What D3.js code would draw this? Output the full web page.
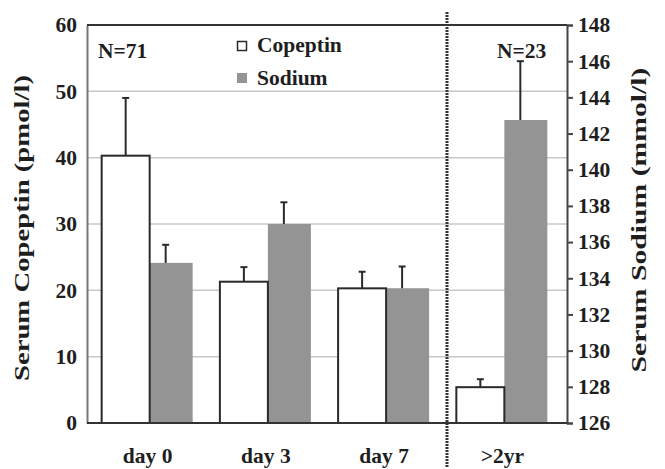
<!DOCTYPE html>
<html>
<head>
<meta charset="utf-8">
<script src="https://cdn.jsdelivr.net/npm/d3@7"></script>
<style>
  body { margin: 0; background: #fff; }
</style>
</head>
<body>
<div id="chart"></div>
<script>
// values
let categories = ["day 0", "day 3", "day 7", ">2yr"];
let copeptin = [40.3, 21.3, 20.3, 5.4];
let copeptinErr = [8.7, 2.2, 2.5, 1.2];
let sodium = [134.85, 137.0, 133.45, 142.75];
let sodiumErr = [1.0, 1.2, 1.2, 3.25];
let leftTicks = [0, 10, 20, 30, 40, 50, 60];
let rightTicks = [126, 128, 130, 132, 134, 136, 138, 140, 142, 144, 146, 148];

let width = 665, height = 469;
let plot = {left: 87, right: 567, top: 25, bottom: 423};
let serif = "'Liberation Serif', 'DejaVu Serif', serif";

let svg = d3.select("#chart")
    .append("svg")
    .attr("width", width)
    .attr("height", height);

let x = d3.scalePoint()
    .domain(categories)
    .range([plot.left, plot.right])
    .padding(0.53);

let yL = d3.scaleLinear().domain([0, 60]).range([plot.bottom, plot.top]);
let yR = d3.scaleLinear().domain([126, 148]).range([plot.bottom, plot.top]);

let copW = 48, sodW = 43;

let data = categories.map((c, i) => ({
    cat: c, cop: copeptin[i], copE: copeptinErr[i], sod: sodium[i], sodE: sodiumErr[i]
}));

function label(sel, size) {
    return sel.style("font-family", serif)
        .style("font-weight", "bold")
        .style("font-size", size)
        .style("fill", "#1e1e1e");
}

// gridlines
svg.append("g")
    .selectAll("line")
    .data(leftTicks.filter(d => d > 0 && d < 60))
    .enter()
    .append("line")
    .attr("x1", plot.left)
    .attr("x2", plot.right)
    .attr("y1", d => yL(d))
    .attr("y2", d => yL(d))
    .attr("stroke", "#c8c8c8")
    .attr("stroke-width", 1.5);

// sodium bars
svg.append("g")
    .selectAll("rect")
    .data(data)
    .enter()
    .append("rect")
    .attr("x", d => x(d.cat))
    .attr("y", d => yR(d.sod))
    .attr("width", sodW)
    .attr("height", d => yR(126) - yR(d.sod))
    .attr("fill", "#949494");

// copeptin bars
svg.append("g")
    .selectAll("rect")
    .data(data)
    .enter()
    .append("rect")
    .attr("x", d => x(d.cat) - copW)
    .attr("y", d => yL(d.cop))
    .attr("width", copW)
    .attr("height", d => yL(0) - yL(d.cop))
    .attr("fill", "#fff")
    .attr("stroke", "#2a2a2a")
    .attr("stroke-width", 2);

// error bars (upper only)
function errBars(cx, yTop, yBot) {
    let g = svg.append("g").selectAll("g").data(data).enter().append("g");
    g.append("line")
        .attr("x1", cx).attr("x2", cx)
        .attr("y1", yBot).attr("y2", yTop)
        .attr("stroke", "#2a2a2a")
        .attr("stroke-width", 2);
    g.append("line")
        .attr("x1", d => cx(d) - 3.5).attr("x2", d => cx(d) + 3.5)
        .attr("y1", yTop).attr("y2", yTop)
        .attr("stroke", "#2a2a2a")
        .attr("stroke-width", 2);
}
errBars(d => x(d.cat) - copW / 2, d => yL(d.cop + d.copE), d => yL(d.cop));
errBars(d => x(d.cat) + 16, d => yR(d.sod + d.sodE), d => yR(d.sod));

// left axis
let axL = svg.append("g")
    .attr("transform", `translate(${plot.left},0)`)
    .call(d3.axisLeft(yL).tickValues(leftTicks).tickSize(0).tickPadding(10));
axL.select(".domain").attr("stroke", "#777").attr("stroke-width", 2);
label(axL.selectAll("text"), "21.5px");

// right axis
let axR = svg.append("g")
    .attr("transform", `translate(${plot.right},0)`)
    .call(d3.axisRight(yR).tickValues(rightTicks).tickSize(6).tickPadding(5));
axR.select(".domain").attr("stroke", "#444").attr("stroke-width", 2);
axR.selectAll(".tick line").attr("stroke", "#444").attr("stroke-width", 2);
label(axR.selectAll("text"), "21.5px");

// top and bottom frame lines
svg.append("line")
    .attr("x1", plot.left).attr("x2", plot.right)
    .attr("y1", plot.top).attr("y2", plot.top)
    .attr("stroke", "#333").attr("stroke-width", 2);
svg.append("line")
    .attr("x1", plot.left).attr("x2", plot.right)
    .attr("y1", plot.bottom).attr("y2", plot.bottom)
    .attr("stroke", "#333").attr("stroke-width", 2);

// separator
svg.append("line")
    .attr("x1", 447).attr("x2", 447)
    .attr("y1", 12).attr("y2", 467)
    .attr("stroke", "#333")
    .attr("stroke-width", 3)
    .attr("stroke-dasharray", "2,1");

// category labels
label(svg.append("g")
    .selectAll("text")
    .data(categories)
    .enter()
    .append("text")
    .attr("x", d => x(d) - 2)
    .attr("y", 463)
    .style("text-anchor", "middle")
    .text(d => d), "21.5px");

// axis titles
label(svg.append("text")
    .attr("transform", "translate(29,228) rotate(-90)")
    .attr("textLength", 306)
    .attr("lengthAdjust", "spacingAndGlyphs")
    .style("text-anchor", "middle")
    .text("Serum Copeptin (pmol/l)"), "21px");

label(svg.append("text")
    .attr("transform", "translate(646,220) rotate(-90)")
    .attr("textLength", 305)
    .attr("lengthAdjust", "spacingAndGlyphs")
    .style("text-anchor", "middle")
    .text("Serum Sodium (mmol/l)"), "21px");

// N annotations
label(svg.append("text").attr("x", 98).attr("y", 58).text("N=71"), "21.5px");
label(svg.append("text").attr("x", 497).attr("y", 58).text("N=23"), "21.5px");

// legend
let legend = svg.append("g");
legend.append("rect")
    .attr("x", 237.5).attr("y", 41.5).attr("width", 9).attr("height", 9)
    .attr("fill", "#fff").attr("stroke", "#2a2a2a").attr("stroke-width", 1.5);
legend.append("rect")
    .attr("x", 237).attr("y", 73).attr("width", 10).attr("height", 10)
    .attr("fill", "#949494");
label(legend.append("text").attr("x", 257).attr("y", 52).text("Copeptin"), "21.5px");
label(legend.append("text").attr("x", 257).attr("y", 85).text("Sodium"), "21.5px");
</script>
</body>
</html>
